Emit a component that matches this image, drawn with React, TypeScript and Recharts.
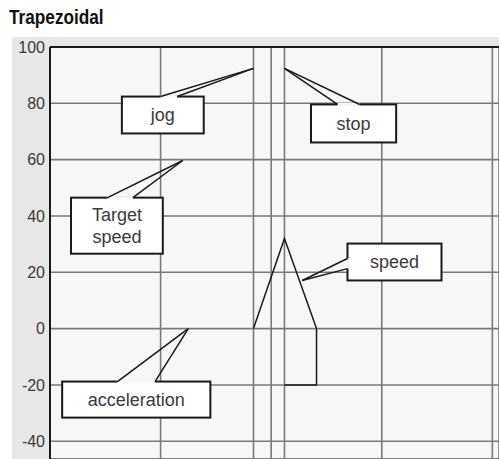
import React from "react";
import {
  ComposedChart,
  Line,
  XAxis,
  YAxis,
  CartesianGrid,
  ReferenceLine,
  ReferenceArea,
} from "recharts";

// axis ticks
const yTicks = [-40, -20, 0, 20, 40, 60, 80, 100];
const xTicks = [1, 2, 3, 4];

// jog / stop markers
const jogX = 1.84;
const stopX = 2.12;

// profile lines
const speedT = [1.84, 2.12, 2.41];
const speedV = [0, 32, 0];
const accelT = [2.41, 2.41, 2.12];
const accelV = [0, -20, -20];

// callouts: label, tip [x, y], box [x1, x2, y1, y2], pointer base on box edge
const calloutLabels = ["jog", "stop", "Target\nspeed", "speed", "acceleration"];
const calloutTips = [
  [1.84, 92.4],
  [2.12, 92.4],
  [1.2, 59.7],
  [2.28, 17.1],
  [1.25, 0],
];
const calloutBoxes = [
  [0.65, 1.39, 69.3, 82.4],
  [2.36, 3.13, 66.1, 79.6],
  [0.19, 1.02, 26.6, 46.5],
  [2.69, 3.54, 17.1, 30.2],
  [0.11, 1.45, -31.6, -18.8],
];
const calloutBases = [
  [[1.0, 82.4], [1.15, 82.4]],
  [[2.6, 79.6], [2.8, 79.6]],
  [[0.52, 46.5], [0.75, 46.5]],
  [[2.69, 24.9], [2.69, 21.3]],
  [[0.61, -18.8], [0.95, -18.8]],
];

const speedData = speedT.map((t, i) => ({ t, v: speedV[i] }));
const accelData = accelT.map((t, i) => ({ t, v: accelV[i] }));

const PLOT_BG = "#f7f7f7";
const GRID = "#7a7a7a";
const INK = "#1a1a1a";
const TEXT = "#3a3a3a";

function CalloutBox(props: any) {
  const { x, y, width, height, text } = props;
  const lines: string[] = text.split("\n");
  const cx = x + width / 2;
  const cy = y + height / 2;
  const lh = 22;
  return (
    <g>
      <rect x={x} y={y} width={width} height={height} fill="#fff" stroke={INK} strokeWidth={2} />
      <text
        x={cx}
        textAnchor="middle"
        fontFamily="'Liberation Sans', Arial, sans-serif"
        fontSize={18}
        fill={TEXT}
      >
        {lines.map((l, i) => (
          <tspan key={i} x={cx} y={cy + (i - (lines.length - 1) / 2) * lh} dy="0.35em">
            {l}
          </tspan>
        ))}
      </text>
    </g>
  );
}

export default function App() {
  return (
    <div style={{ position: "absolute", left: 0, top: 0, width: 499, height: 459, background: "#fff", overflow: "hidden" }}>
      {/* condensed bold title */}
      <div
        style={{
          position: "absolute",
          left: 9,
          top: 6,
          fontFamily: "'Liberation Sans', Arial, sans-serif",
          fontWeight: "bold",
          fontSize: 20,
          color: "#111",
          transform: "scaleX(0.86)",
          transformOrigin: "left top",
          whiteSpace: "nowrap",
        }}
      >
        Trapezoidal
      </div>
      <div style={{ position: "absolute", left: 12, top: 37, width: 487, height: 422, background: "#e7e7e7" }}>
        <ComposedChart width={487} height={422} margin={{ top: 10, right: 0, bottom: 0, left: 0 }}>
          <CartesianGrid fill={PLOT_BG} stroke={GRID} strokeWidth={1.6} />
          <XAxis dataKey="t" type="number" domain={[0, 4.06]} ticks={xTicks} hide allowDataOverflow />
          <YAxis
            type="number"
            domain={[-46.3, 100]}
            ticks={yTicks}
            width={38}
            allowDataOverflow
            axisLine={{ stroke: INK, strokeWidth: 2 }}
            tickLine={false}
            tickSize={0}
            tickMargin={5}
            tick={{ fill: TEXT, fontSize: 16, fontFamily: "'Liberation Sans', Arial, sans-serif" }}
          />
          <ReferenceLine y={-46.3} stroke={GRID} strokeWidth={1.6} />
          <ReferenceLine x={jogX} stroke={GRID} strokeWidth={1.6} />
          <ReferenceLine x={stopX} stroke={GRID} strokeWidth={1.6} />
          <ReferenceLine y={100} stroke={INK} strokeWidth={2} />
          {calloutBoxes.map((b, i) => (
            <ReferenceArea
              key={"box" + i}
              x1={b[0]}
              x2={b[1]}
              y1={b[2]}
              y2={b[3]}
              shape={(p: any) => <CalloutBox {...p} text={calloutLabels[i]} />}
            />
          ))}
          {calloutBases.map((b, i) => (
            <ReferenceLine
              key={"gap" + i}
              segment={[{ x: b[0][0], y: b[0][1] }, { x: b[1][0], y: b[1][1] }]}
              stroke={PLOT_BG}
              strokeWidth={3}
            />
          ))}
          {calloutBases.map((b, i) =>
            b.map((pt, j) => (
              <ReferenceLine
                key={"ptr" + i + "-" + j}
                segment={[{ x: calloutTips[i][0], y: calloutTips[i][1] }, { x: pt[0], y: pt[1] }]}
                stroke={INK}
                strokeWidth={1.5}
              />
            ))
          )}
          <Line data={speedData} dataKey="v" type="linear" stroke={INK} strokeWidth={1.5} dot={false} isAnimationActive={false} />
          <Line data={accelData} dataKey="v" type="linear" stroke={INK} strokeWidth={1.5} dot={false} isAnimationActive={false} />
        </ComposedChart>
      </div>
    </div>
  );
}
